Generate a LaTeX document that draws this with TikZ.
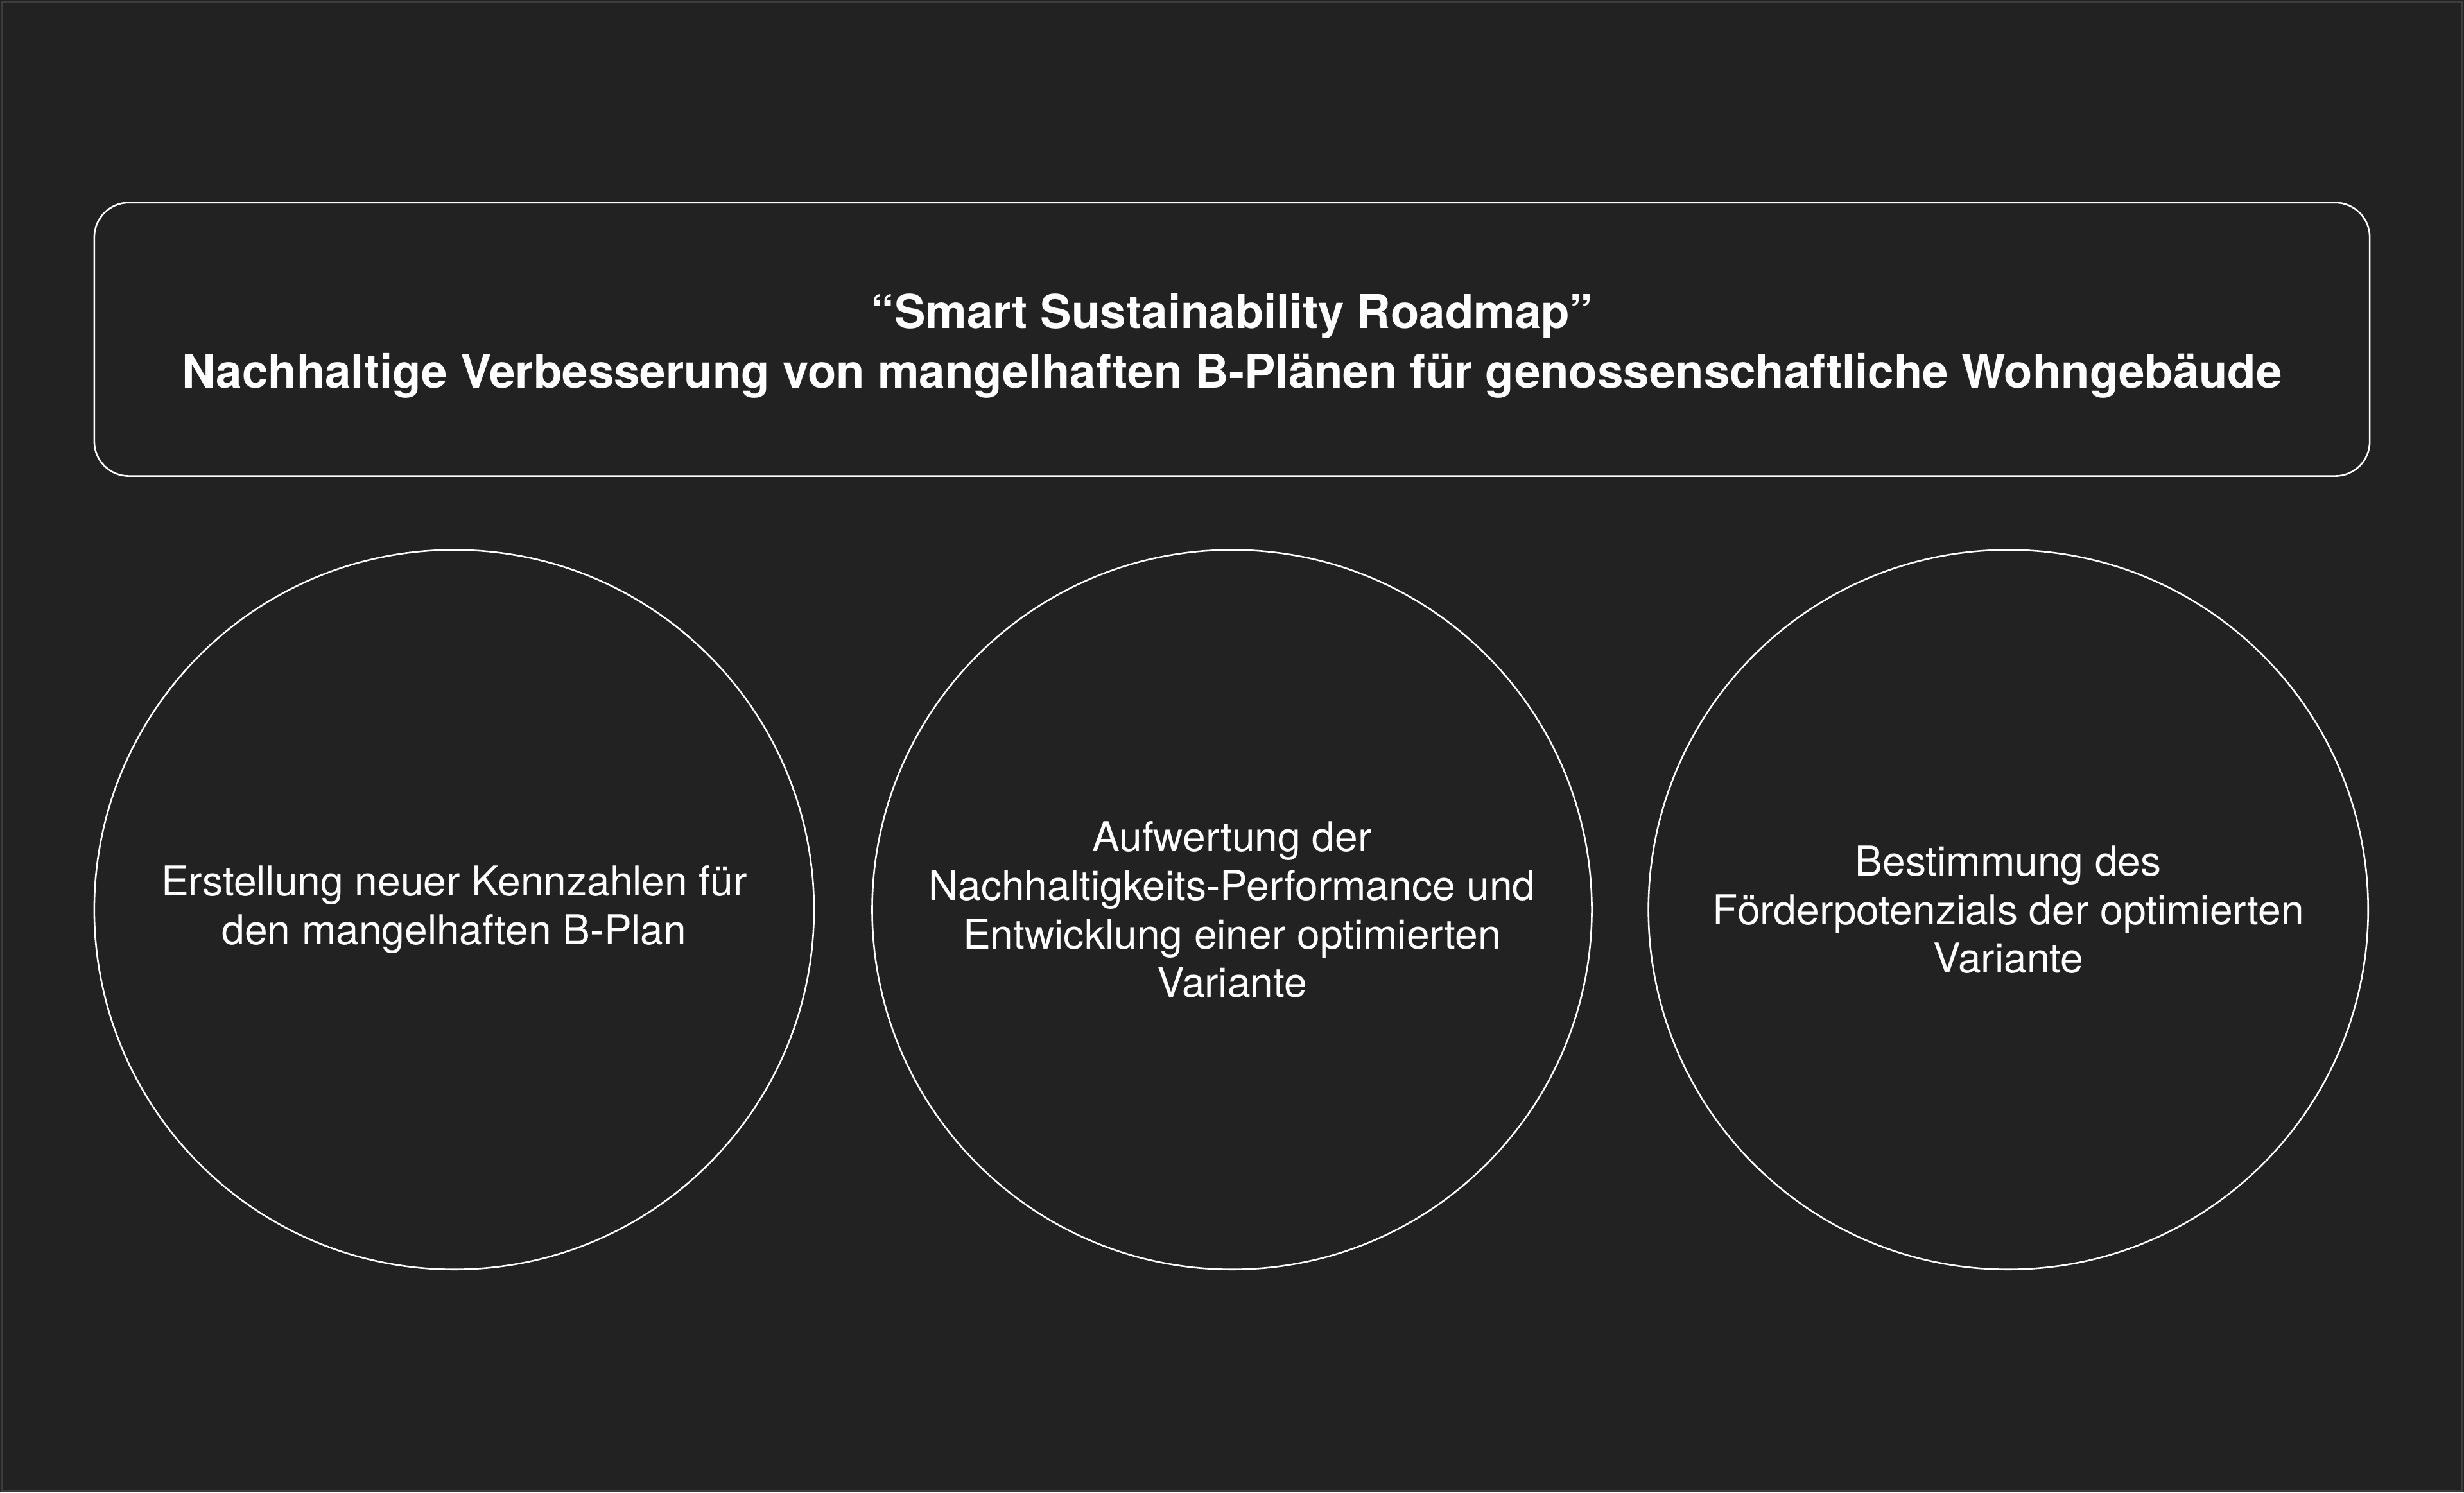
\documentclass[tikz,border=0pt]{standalone}
\usepackage{fontspec}
\setmainfont{TeX Gyre Heros}
\usetikzlibrary{positioning}
\definecolor{bg}{HTML}{222222}
\definecolor{frame}{HTML}{3C3C3C}
\begin{document}
\begin{tikzpicture}[
    roadbox/.style={draw=white,line width=0.3pt,rounded corners=0.22cm,minimum width=14.48cm,minimum height=1.74cm,align=center,text=white,font=\bfseries\fontsize{8.45}{10.8}\selectfont},
    goal/.style={draw=white,line width=0.3pt,circle,minimum size=4.58cm,align=center,text=white,font=\fontsize{7.45}{8.8}\selectfont}]
    % background
    \fill[bg] (0,0) rectangle (15.68,9.50);
    \draw[frame,line width=0.4pt] (0.01,0.01) rectangle (15.67,9.49);
    \useasboundingbox (0,0) rectangle (15.68,9.50);
    % title
    \node[roadbox] (title) at (7.84,7.34) {};
    \node[text=white,align=center,font=\bfseries\fontsize{8.45}{10.8}\selectfont] (titletext) at ([yshift=-0.04cm]title.center) {``Smart Sustainability Roadmap''\\Nachhaltige Verbesserung von mangelhaften B-Plänen für genossenschaftliche Wohngebäude};
    % circles
    \node[goal] (kenn) at (2.89,3.71) {Erstellung neuer Kennzahlen für\\den mangelhaften B-Plan};
    \node[goal] (perf) at (7.84,3.71) {Aufwertung der\\Nachhaltigkeits-Performance und\\Entwicklung einer optimierten\\Variante};
    \node[goal] (foerd) at (12.78,3.71) {Bestimmung des\\Förderpotenzials der optimierten\\Variante};
\end{tikzpicture}
\end{document}
